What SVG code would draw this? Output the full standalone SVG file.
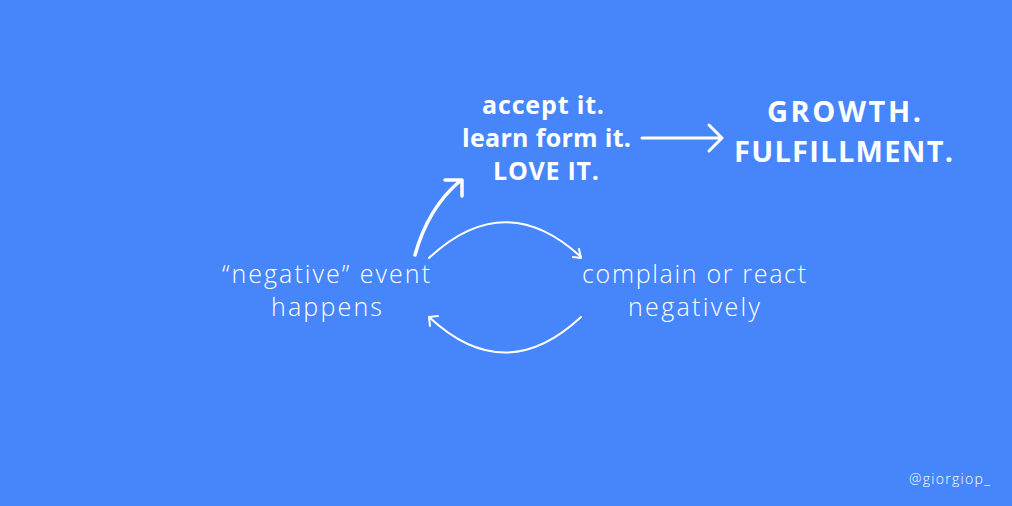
<svg xmlns="http://www.w3.org/2000/svg" width="1012" height="506" viewBox="0 0 1012 506">
<style>
.bold{font-family:"Open Sans","Noto Sans","Liberation Sans",sans-serif;font-weight:700;fill:#fff;text-anchor:middle}
.light{font-family:"Open Sans","Noto Sans","Liberation Sans",sans-serif;font-weight:300;fill:#fff;text-anchor:middle}
.ln{fill:none;stroke:#fff;stroke-linecap:round;stroke-linejoin:round}
</style>
<rect width="1012" height="506" fill="#4785fb"/>
<g id="accept">
<text class="bold" font-size="25" x="543" y="114" textLength="122" lengthAdjust="spacing">accept it.</text>
<text class="bold" font-size="25" x="546.5" y="147" textLength="169" lengthAdjust="spacing">learn form it.</text>
<text class="bold" font-size="25" x="546" y="180" textLength="106" lengthAdjust="spacing">LOVE IT.</text>
</g>
<g id="growth">
<text class="bold" font-size="29" x="844" y="122" textLength="154" lengthAdjust="spacing">GROWTH.</text>
<text class="bold" font-size="29" x="843.5" y="162" textLength="219" lengthAdjust="spacing">FULFILLMENT.</text>
</g>
<g id="event">
<text class="light" font-size="25" x="326" y="283" textLength="208" lengthAdjust="spacing">“negative” event</text>
<text class="light" font-size="25" x="326.5" y="316" textLength="111" lengthAdjust="spacing">happens</text>
</g>
<g id="complain">
<text class="light" font-size="25" x="694" y="283" textLength="224" lengthAdjust="spacing">complain or react</text>
<text class="light" font-size="25" x="694" y="316" textLength="132" lengthAdjust="spacing">negatively</text>
</g>
<g id="connectors">
<path class="ln" stroke-width="3" d="M642 138 H722 M709 125 L722 138 L709 151"/>
<path class="ln" stroke-width="3.5" d="M415 255 Q428 208 460 181 M445 180 H462 V196"/>
<path class="ln" stroke-width="2" d="M429 258 Q505 187 581 257 M573 257 L581 258 L579 249"/>
<path class="ln" stroke-width="2" d="M581 317 Q505 388 429 317 M430 326 L429 317 L438 316"/>
</g>
<text font-family="Open Sans,Noto Sans,sans-serif" font-weight="300" font-size="14" fill="#fff" x="990" y="484" text-anchor="end" textLength="81" lengthAdjust="spacing">@giorgiop_</text>
</svg>
